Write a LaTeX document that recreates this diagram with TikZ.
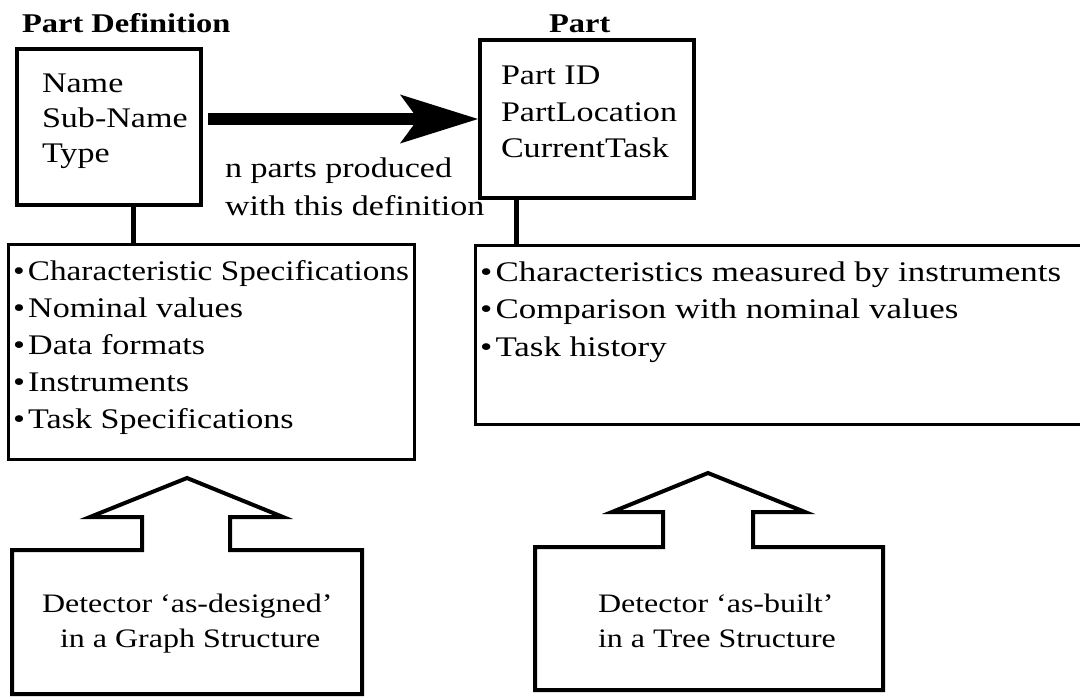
\documentclass[tikz,border=0pt]{standalone}
\usepackage{fontspec}
\setmainfont{Liberation Serif}[FakeStretch=1.2]
\newfontfamily\narrowf{Liberation Serif}[FakeStretch=1.17]
\newfontfamily\widef{Liberation Serif}[FakeStretch=1.23]
\usetikzlibrary{arrows.meta}
\newcommand\bul{\textbullet\kern2.5pt}
\begin{document}
\begin{tikzpicture}[x=0.75pt,y=-0.75pt,
  lbl/.style={anchor=base west, inner sep=0pt, outer sep=0pt, font=\fontsize{21.3}{26}\selectfont},
  ttl/.style={lbl, font=\fontsize{20.3}{26}\selectfont\bfseries},
  dlbl/.style={lbl, font=\fontsize{20}{26}\selectfont},
  thickbox/.style={draw, line width=3pt, inner sep=0pt},
  thinbox/.style={draw, line width=2.25pt, inner sep=0pt},
  conn/.style={line width=3.75pt},
  det/.style={draw, line width=3pt, line join=miter}]
\path[use as bounding box, fill=white] (0,0) rectangle (1080,697);

% titles
\node[ttl] (t1) at (22,32) {Part Definition};
\node[ttl] (t2) at (549,32) {Part};

% boxes
\node[thickbox, minimum width=138pt, minimum height=117pt] (box1) at (109,127) {};
\node[thinbox, minimum width=304.5pt, minimum height=161.25pt] (box2) at (211,351.5) {};
\node[thickbox, minimum width=160.5pt, minimum height=118.5pt] (box3) at (587,119) {};
\node[thinbox, minimum width=468.75pt, minimum height=134.25pt] (box4) at (787.5,334.5) {};

% box texts
\node[lbl] (a1) at (42,92) {Name};
\node[lbl] (a2) at (42,127) {Sub-Name};
\node[lbl] (a3) at (42,162) {Type};

\node[lbl] (p1) at (501,84) {Part ID};
\node[lbl] (p2) at (501,121) {PartLocation};
\node[lbl] (p3) at (501,157) {CurrentTask};

\node[lbl] (b1) at (13,280) {\narrowf\bul Characteristic Specifications};
\node[lbl] (b2) at (13,317) {\bul Nominal values};
\node[lbl] (b3) at (13,354) {\bul Data formats};
\node[lbl] (b4) at (13,391) {\bul Instruments};
\node[lbl] (b5) at (13,428) {\bul Task Specifications};

\node[lbl] (c1) at (480,281) {\widef\bul Characteristics measured by instruments};
\node[lbl] (c2) at (480,318.5) {\widef\bul Comparison with nominal values};
\node[lbl] (c3) at (480,356) {\widef\bul Task history};

\node[lbl] (n1) at (225,177) {n parts produced};
\node[lbl] (n2) at (225,215) {with this definition};

% connectors
\coordinate (k1) at (133,0);
\coordinate (k2) at (516,0);
\draw[conn] (box1.south -| k1) -- (k1 |- box2.north);
\draw[conn] (box3.south -| k2) -- (k2 |- box4.north);
\draw[line width=9pt, -{Stealth[length=58.5pt,width=36.75pt,inset=13.5pt,line width=0pt]}, shorten <=3.75pt]
  (box1.east |- box3.west) -- (box3.west);

% detector shapes
\draw[det] (187,478) -- (90,517) -- (142,517) -- (142,550) -- (12,550) -- (12,694)
  -- (362,694) -- (362,550) -- (230,550) -- (230,517) -- (283,517) -- cycle;
\draw[det] (708,473) -- (612,512) -- (663,512) -- (663,547) -- (535,547) -- (535,690)
  -- (883,690) -- (883,547) -- (753,547) -- (753,512) -- (805,512) -- cycle;

\node[dlbl] (d1) at (42,612) {Detector `as-designed'};
\node[dlbl] (d2) at (60,647) {in a Graph Structure};
\node[dlbl] (e1) at (598,612) {Detector `as-built'};
\node[dlbl] (e2) at (598,647) {in a Tree Structure};
\end{tikzpicture}
\end{document}
